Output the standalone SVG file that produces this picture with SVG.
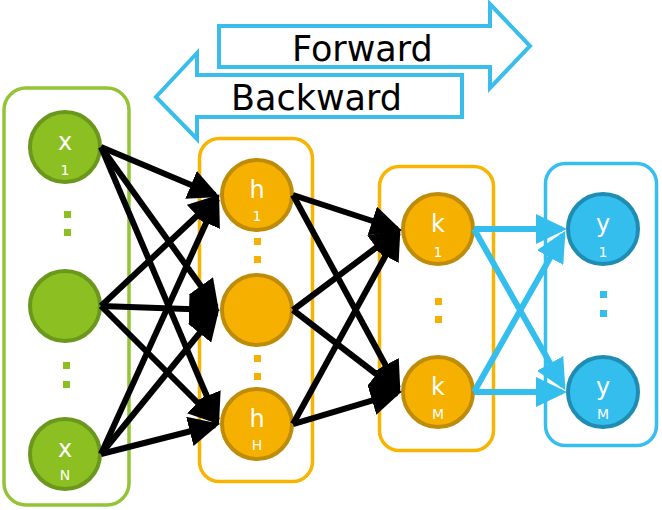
<svg xmlns="http://www.w3.org/2000/svg" width="662" height="510" viewBox="0 0 662 510">
<defs>
<style>
.bg{fill:#ffffff}
.dir{fill:#ffffff;stroke:#39BDEC;stroke-width:4;stroke-linejoin:miter}
.dirtxt{font-family:"DejaVu Sans","Liberation Sans",sans-serif;font-size:35px;fill:#000000}
.box{fill:none;stroke-width:3.5}
.gbox{stroke:#93C436}
.obox{stroke:#F7B400}
.bbox{stroke:#36BEEE}
.gn{fill:#8CBF22;stroke:#6B981C;stroke-width:4}
.on{fill:#F5B000;stroke:#BF8C0A;stroke-width:4}
.bn{fill:#33BEEE;stroke:#1F8DB3;stroke-width:4}
.lbl{font-family:"DejaVu Sans","Liberation Sans",sans-serif;font-size:24px;fill:#ffffff;text-anchor:middle}
.sub{font-family:"DejaVu Sans","Liberation Sans",sans-serif;font-size:14px;fill:#ffffff;text-anchor:middle}
.gd{fill:#8CBF22}
.od{fill:#F5B000}
.bd{fill:#33BEEE}
.blk{stroke:#000000;stroke-width:6;fill:none;marker-end:url(#ah)}
.blu{stroke:#33BEEE;stroke-width:6;fill:none;marker-end:url(#ahb)}
</style>
<marker id="ah" markerUnits="userSpaceOnUse" markerWidth="31" markerHeight="30" refX="26" refY="15" orient="auto">
<path d="M0,0 L31,15 L0,30 z" fill="#000000"/>
</marker>
<marker id="ahb" markerUnits="userSpaceOnUse" markerWidth="31" markerHeight="30" refX="26" refY="15" orient="auto">
<path d="M0,0 L31,15 L0,30 z" fill="#33BEEE"/>
</marker>
</defs>
<rect class="bg" x="0" y="0" width="662" height="510"/>

<g id="forward">
<polygon class="dir" points="219,26 490,26 490,4 530,46 490,88 490,67 219,67"/>
<text class="dirtxt" x="292" y="61">Forward</text>
</g>
<g id="backward">
<polygon class="dir" points="462,75 197,75 197,53 156,97 197,139 197,117 462,117"/>
<text class="dirtxt" x="231" y="110">Backward</text>
</g>

<g id="layer-x">
<rect class="box gbox" x="4" y="88" width="125" height="417" rx="22"/>
<rect class="gd" x="64" y="211" width="7" height="7"/>
<rect class="gd" x="64" y="229" width="7" height="7"/>
<rect class="gd" x="63" y="362" width="7" height="7"/>
<rect class="gd" x="63" y="381" width="7" height="7"/>
</g>
<g id="layer-h">
<rect class="box obox" x="199.5" y="138.5" width="113" height="343" rx="20"/>
<rect class="od" x="254" y="238" width="7" height="7"/>
<rect class="od" x="254" y="256" width="7" height="7"/>
<rect class="od" x="254" y="355" width="7" height="7"/>
<rect class="od" x="254" y="373" width="7" height="7"/>
</g>
<g id="layer-k">
<rect class="box obox" x="379.5" y="166.5" width="114" height="284" rx="20"/>
<rect class="od" x="435" y="298" width="7" height="7"/>
<rect class="od" x="435" y="316" width="7" height="7"/>
</g>
<g id="layer-y">
<rect class="box bbox" x="545.5" y="163.5" width="111" height="282" rx="20"/>
<rect class="bd" x="600" y="291" width="7" height="7"/>
<rect class="bd" x="600" y="310" width="7" height="7"/>
</g>

<g id="node-x1"><circle class="gn" cx="65" cy="147" r="35"/><text class="lbl" x="65" y="150">x</text><text class="sub" x="65" y="175">1</text></g>
<g id="node-xmid"><circle class="gn" cx="65" cy="306" r="35"/></g>
<g id="node-xN"><circle class="gn" cx="65" cy="454" r="35"/><text class="lbl" x="65" y="457">x</text><text class="sub" x="65" y="480">N</text></g>

<g id="node-h1"><circle class="on" cx="257" cy="195" r="35"/><text class="lbl" x="257" y="198">h</text><text class="sub" x="257" y="221">1</text></g>
<g id="node-hmid"><circle class="on" cx="257" cy="310" r="35"/></g>
<g id="node-hH"><circle class="on" cx="257" cy="424" r="35"/><text class="lbl" x="257" y="427">h</text><text class="sub" x="257" y="450">H</text></g>

<g id="node-k1"><circle class="on" cx="438" cy="229" r="35"/><text class="lbl" x="438" y="232">k</text><text class="sub" x="438" y="257">1</text></g>
<g id="node-kM"><circle class="on" cx="438" cy="392" r="35"/><text class="lbl" x="438" y="395">k</text><text class="sub" x="438" y="419">M</text></g>

<g id="node-y1"><circle class="bn" cx="603" cy="229" r="35"/><text class="lbl" x="603" y="232">y</text><text class="sub" x="603" y="257">1</text></g>
<g id="node-yM"><circle class="bn" cx="603" cy="392" r="35"/><text class="lbl" x="603" y="395">y</text><text class="sub" x="603" y="419">M</text></g>

<g id="connectors">
<line class="blk" x1="101" y1="147" x2="215" y2="195"/>
<line class="blk" x1="101" y1="147" x2="216" y2="307"/>
<line class="blk" x1="101" y1="147" x2="217" y2="420"/>
<line class="blk" x1="101" y1="306" x2="216" y2="198"/>
<line class="blk" x1="101" y1="306" x2="215" y2="310"/>
<line class="blk" x1="101" y1="306" x2="216" y2="421"/>
<line class="blk" x1="101" y1="454" x2="217" y2="199"/>
<line class="blk" x1="101" y1="454" x2="216" y2="313"/>
<line class="blk" x1="101" y1="454" x2="215" y2="425"/>
<line class="blk" x1="293" y1="195" x2="397" y2="229"/>
<line class="blk" x1="293" y1="195" x2="398" y2="388"/>
<line class="blk" x1="293" y1="310" x2="397" y2="232"/>
<line class="blk" x1="293" y1="310" x2="397" y2="390"/>
<line class="blk" x1="293" y1="424" x2="398" y2="233"/>
<line class="blk" x1="293" y1="424" x2="397" y2="393"/>
<line class="blu" x1="474" y1="229" x2="562" y2="229"/>
<line class="blu" x1="474" y1="229" x2="563" y2="386"/>
<line class="blu" x1="474" y1="392" x2="563" y2="235"/>
<line class="blu" x1="474" y1="392" x2="562" y2="392"/>
</g>
</svg>
